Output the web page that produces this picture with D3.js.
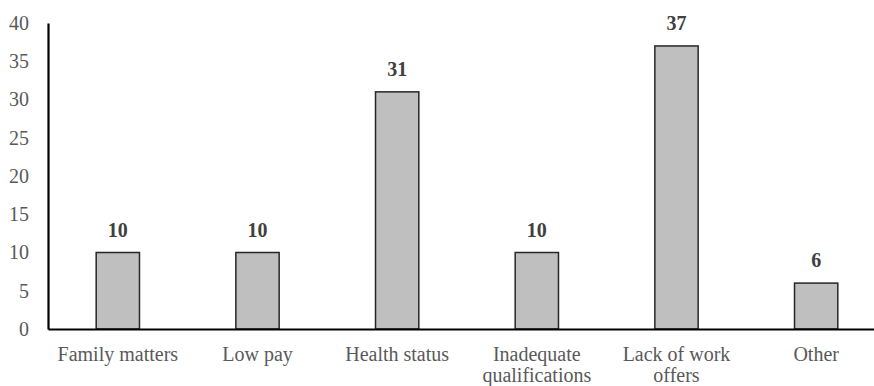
<!DOCTYPE html>
<html>
<head>
<meta charset="utf-8">
<script src="https://cdn.jsdelivr.net/npm/d3@7"></script>
<style>
  html, body { margin: 0; padding: 0; background: #fff; }
  svg { display: block; }
  svg text { font-family: "Liberation Serif"; }
</style>
</head>
<body>
<svg id="chart" width="874" height="386"></svg>
<script>
// Reasons reported (%)
const categories = ["Family matters", "Low pay", "Health status", "Inadequate qualifications", "Lack of work offers", "Other"];
const categoryLines = [["Family matters"], ["Low pay"], ["Health status"], ["Inadequate", "qualifications"], ["Lack of work", "offers"], ["Other"]];
const values = [10, 10, 31, 10, 37, 6];
const yTicks = [0, 5, 10, 15, 20, 25, 30, 35, 40];

const FONT = '"Liberation Serif"';
const svg = d3.select("#chart");
const plotLeft = 48, plotRight = 886, plotTop = 23, plotBottom = 329;

const x = d3.scaleBand().domain(categories).range([plotLeft, plotRight]).paddingInner(0.69).paddingOuter(0.345);
const y = d3.scaleLinear().domain([0, 40]).range([plotBottom, plotTop]);

// Bars
svg.append("g").selectAll("rect").data(values).join("rect")
  .attr("x", (d, i) => x(categories[i]))
  .attr("y", d => y(d))
  .attr("width", x.bandwidth())
  .attr("height", d => y(0) - y(d))
  .attr("fill", "#bfbfbf")
  .attr("stroke", "#262626")
  .attr("stroke-width", 1.5);

// Value labels
svg.append("g").selectAll("text").data(values).join("text")
  .attr("x", (d, i) => x(categories[i]) + x.bandwidth() / 2)
  .attr("y", d => y(d) - 16)
  .attr("text-anchor", "middle")
  .style("font-family", FONT)
  .style("font-size", "20px")
  .style("font-weight", "bold")
  .attr("fill", "#404040")
  .text(d => d);

// Y axis
const yAxis = svg.append("g").attr("transform", `translate(${plotLeft},0)`)
  .call(d3.axisLeft(y).tickValues(yTicks).tickSize(0).tickPadding(19));
yAxis.attr("font-family", null);
yAxis.select(".domain").attr("stroke", "#000").attr("stroke-width", 2.2);
yAxis.selectAll("text")
  .style("font-family", FONT)
  .style("font-size", "20px")
  .attr("fill", "#595959");

// X axis
const xAxis = svg.append("g").attr("transform", `translate(0,${plotBottom})`)
  .call(d3.axisBottom(x).tickSize(0).tickFormat(""));
xAxis.select(".domain").attr("stroke", "#000").attr("stroke-width", 2.2);

// Category labels (wrapped)
const cat = svg.append("g").selectAll("text").data(categories).join("text")
  .attr("x", d => x(d) + x.bandwidth() / 2)
  .attr("y", 361)
  .attr("text-anchor", "middle")
  .style("font-family", FONT)
  .style("font-size", "20px")
  .attr("fill", "#595959");
cat.each(function(d, i) {
  const t = d3.select(this);
  categoryLines[i].forEach((line, j) => {
    t.append("tspan").attr("x", x(d) + x.bandwidth() / 2).attr("dy", j === 0 ? 0 : 21).text(line);
  });
});
</script>
</body>
</html>
